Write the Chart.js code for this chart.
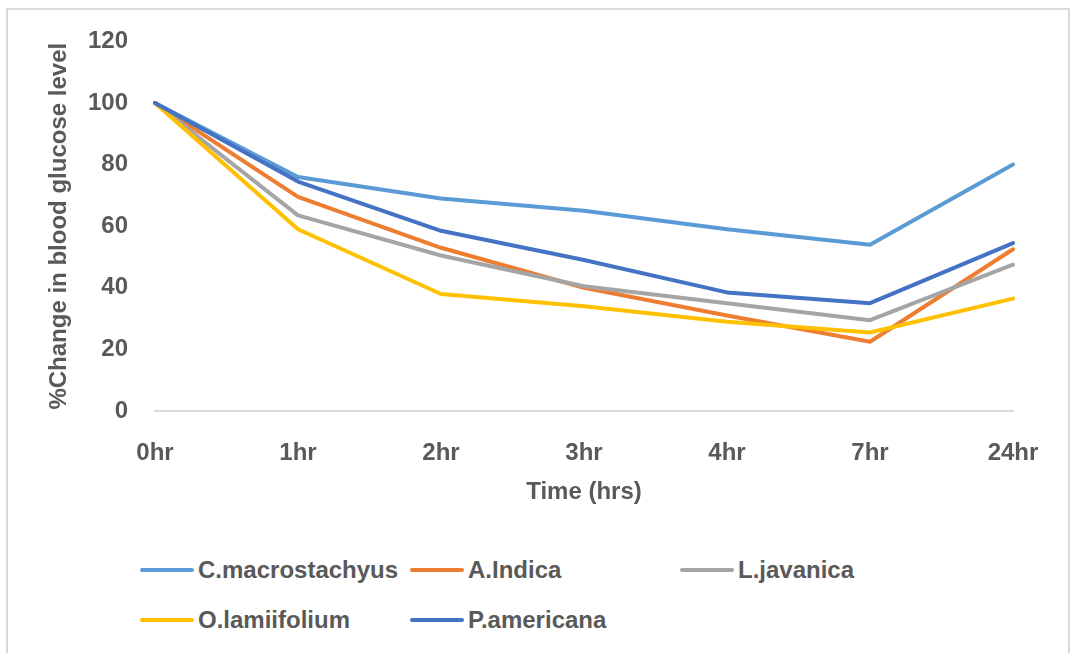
<!DOCTYPE html>
<html>
<head>
<meta charset="utf-8">
<script src="https://cdn.jsdelivr.net/npm/chart.js@4.4.1/dist/chart.umd.min.js"></script>
<style>
  body { margin: 0; background: #fff; }
  #wrap { position: relative; width: 1074px; height: 653px; overflow: hidden; }
  #frame { position: absolute; left: 6px; top: 8px; width: 1060px; height: 700px; border: 2px solid #d9d9d9; }
  #chartBox { position: absolute; left: 0; top: 0; width: 1074px; height: 520px; }
  #legend { position: absolute; left: 140px; top: 552px; width: 820px; display: grid;
            grid-template-columns: 270px 270px 270px; row-gap: 14px;
            font-family: "Liberation Sans", Arial, sans-serif; font-weight: 700; font-size: 24px; color: #595959; }
  .item { display: flex; align-items: center; height: 36px; white-space: nowrap; }
  .swatch { width: 54px; height: 4px; border-radius: 2px; margin-right: 4px; }
</style>
</head>
<body>
<div id="wrap">
  <div id="frame"></div>
  <div id="chartBox"><canvas id="lineChart"></canvas></div>
  <div id="legend"></div>
</div>
<script>
// Veriler
const timeLabels = ['0hr', '1hr', '2hr', '3hr', '4hr', '7hr', '24hr'];
const seriesNames = ['C.macrostachyus', 'A.Indica', 'L.javanica', 'O.lamiifolium', 'P.americana'];
const seriesColors = ['#5B9BD5', '#ED7D31', '#A5A5A5', '#FFC000', '#4472C4'];

const cMacrostachyus = [100, 76, 69, 65, 59, 54, 80];
const aIndica = [100, 69.5, 53, 40, 31, 22.5, 52.5];
const lJavanica = [100, 63.5, 50.5, 40.5, 35, 29.5, 47.5];
const oLamiifolium = [100, 59, 38, 34, 29, 25.5, 36.5];
const pAmericana = [100, 74.5, 58.5, 49, 38.5, 35, 54.5];

const seriesValues = [cMacrostachyus, aIndica, lJavanica, oLamiifolium, pAmericana];

const yTicks = { min: 0, max: 120, step: 20 };

const textColor = '#595959';
const fontFamily = '"Liberation Sans", Arial, sans-serif';

// Dataset listesi
const datasets = seriesNames.map((name, i) => ({
    label: name,
    data: seriesValues[i],
    borderColor: seriesColors[i],
    backgroundColor: seriesColors[i],
    borderWidth: 4,
    pointRadius: 0,
    tension: 0,
    borderJoinStyle: 'round',
    borderCapStyle: 'round',
    order: seriesNames.length - i  // Excel gibi: son seri en üstte
}));

const ctx = document.getElementById('lineChart');
new Chart(ctx.getContext('2d'), {
    type: 'line',
    data: { labels: timeLabels, datasets: datasets },
    options: {
        responsive: true,
        maintainAspectRatio: false,
        animation: false,
        layout: { padding: { left: 45, top: 40, right: 61, bottom: 13 } },
        plugins: {
            legend: { display: false },
            tooltip: { enabled: false }
        },
        scales: {
            x: {
                offset: false,
                grid: { display: false, drawTicks: false },
                border: { display: true, color: '#d9d9d9', width: 2 },
                ticks: { color: textColor, padding: 28, maxRotation: 0,
                         font: { family: fontFamily, size: 24, weight: 'bold' } },
                title: { display: true, text: 'Time (hrs)', color: textColor, padding: { top: 10, bottom: 0 },
                         font: { family: fontFamily, size: 24, weight: 'bold' } },
                afterFit: s => { s.height = 96; }
            },
            y: {
                min: yTicks.min,
                max: yTicks.max,
                grid: { display: false, drawTicks: false },
                border: { display: false },
                ticks: { stepSize: yTicks.step, color: textColor, padding: 27,
                         font: { family: fontFamily, size: 24, weight: 'bold' } },
                title: { display: true, text: '%Change in blood glucose level', color: textColor, padding: 0,
                         font: { family: fontFamily, size: 24, weight: 'bold' } },
                afterFit: s => { s.width = 110; }
            }
        }
    }
});

// HTML legend (Excel düzeni: 3 sütun)
const legendEl = document.getElementById('legend');
seriesNames.forEach((name, i) => {
    const item = document.createElement('div');
    item.className = 'item';
    item.innerHTML = '<span class="swatch" style="background:' + seriesColors[i] + '"></span>' + name;
    legendEl.appendChild(item);
});
</script>
</body>
</html>
